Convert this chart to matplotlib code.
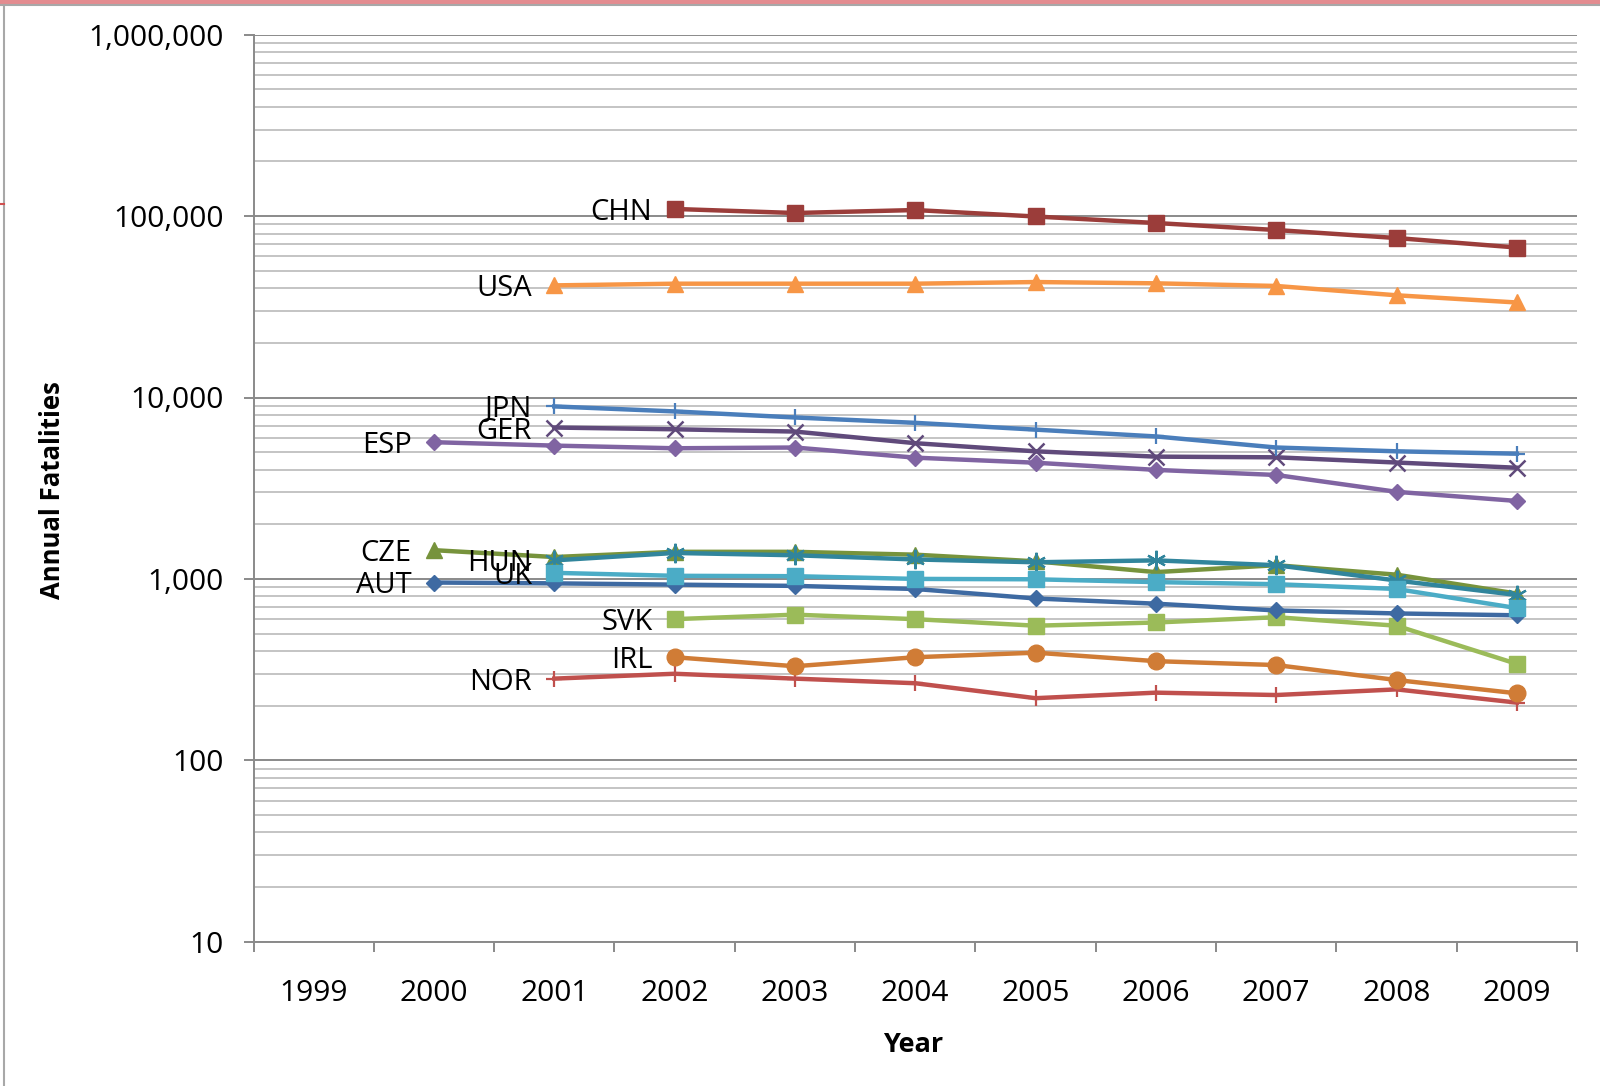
#!/usr/bin/env python3
"""Annual road fatalities by country, 1999-2009, log scale (Excel-style line chart)."""

import matplotlib

matplotlib.use("Agg")
import matplotlib.pyplot as plt
from matplotlib.lines import Line2D
from matplotlib.patches import Rectangle
from matplotlib.ticker import FixedLocator, FuncFormatter, LogLocator, NullFormatter

YEARS = list(range(1999, 2010))

# first year of each series and its values
CHN_START, CHN = 2002, [109500, 104000, 108000, 99500, 91600, 83800, 75700, 67100]
USA_START, USA = 2001, [41500, 42400, 42400, 42400, 43300, 42600, 41200, 36600, 33400]
JPN_START, JPN = 2001, [8930, 8380, 7760, 7250, 6650, 6100, 5300, 5050, 4900]
GER_START, GER = 2001, [6830, 6680, 6490, 5600, 5050, 4720, 4680, 4380, 4100]
ESP_START, ESP = 2000, [5670, 5430, 5250, 5300, 4660, 4370, 3990, 3740, 3020, 2690]
CZE_START, CZE = 2000, [1440, 1320, 1410, 1410, 1360, 1250, 1090, 1190, 1055, 830]
HUN_START, HUN = 2001, [1265, 1390, 1350, 1280, 1235, 1265, 1190, 980, 815]
UK_START, UK = 2001, [1080, 1040, 1035, 1000, 995, 960, 935, 880, 690]
AUT_START, AUT = 2000, [955, 945, 930, 915, 880, 780, 730, 670, 645, 630]
SVK_START, SVK = 2002, [600, 635, 600, 552, 575, 615, 552, 340]
IRL_START, IRL = 2002, [370, 330, 370, 392, 352, 335, 277, 234]
NOR_START, NOR = 2001, [282, 300, 282, 266, 220, 236, 229, 246, 208]

# name, start, values, colour, marker, marker size, marker edge width
SERIES = [
    ("NOR", NOR_START, NOR, "#C0504D", "+", 12, 1.6),
    ("IRL", IRL_START, IRL, "#D07C36", "o", 12, 1.0),
    ("SVK", SVK_START, SVK, "#9BBB59", "s", 12, 1.0),
    ("AUT", AUT_START, AUT, "#3E6AA2", "D", 8.5, 1.0),
    ("CZE", CZE_START, CZE, "#77933C", "^", 12, 1.0),
    ("HUN", HUN_START, HUN, "#31859C", (6, 2, 0), 14, 1.6),
    ("UK", UK_START, UK, "#4BACC6", "s", 12, 1.0),
    ("ESP", ESP_START, ESP, "#8064A2", "D", 8.5, 1.0),
    ("GER", GER_START, GER, "#604A7B", "x", 11, 1.8),
    ("JPN", JPN_START, JPN, "#4A7EBB", "+", 12, 1.6),
    ("USA", USA_START, USA, "#F79646", "^", 12, 1.0),
    ("CHN", CHN_START, CHN, "#9B3D3A", "s", 12, 1.0),
]

FONT = ["Open Sans", "DejaVu Sans"]
W, H = 1600, 1086


def fx(px):
    return px / W


def fy(py):
    return 1 - py / H


def main():
    plt.rcParams["font.family"] = FONT
    fig = plt.figure(figsize=(W / 100, H / 100), dpi=100, facecolor="white")

    ax_left, ax_right, ax_top, ax_bottom = 253.5, 1577, 34.7, 941.7
    ax = fig.add_axes([fx(ax_left), fy(ax_bottom), fx(ax_right - ax_left), (ax_bottom - ax_top) / H])

    for name, start, values, color, marker, ms, mew in SERIES:
        xs = [year - YEARS[0] for year in range(start, start + len(values))]
        ax.plot(
            xs,
            values,
            color=color,
            linewidth=3.2,
            marker=marker,
            markersize=ms,
            markeredgewidth=mew,
            markeredgecolor=color,
            markerfacecolor=color,
            zorder=3,
            solid_joinstyle="round",
        )
        ax.annotate(
            name,
            xy=(xs[0], values[0]),
            xytext=(-16, -2.5),
            textcoords="offset points",
            ha="right",
            va="center",
            fontsize=21,
            color="black",
            zorder=5,
        )

    ax.set_yscale("log")
    ax.set_ylim(10, 1e6)
    ax.set_xlim(-0.5, len(YEARS) - 0.5)

    ax.yaxis.set_major_locator(FixedLocator([10, 100, 1000, 10000, 100000, 1000000]))
    ax.yaxis.set_major_formatter(FuncFormatter(lambda v, _: f"{int(round(v)):,}"))
    ax.yaxis.set_minor_locator(LogLocator(base=10, subs=range(2, 10), numticks=20))
    ax.yaxis.set_minor_formatter(NullFormatter())

    ax.xaxis.set_major_locator(FixedLocator([i - 0.5 for i in range(len(YEARS) + 1)]))
    ax.xaxis.set_major_formatter(NullFormatter())
    ax.xaxis.set_minor_locator(FixedLocator(range(len(YEARS))))
    ax.xaxis.set_minor_formatter(FuncFormatter(lambda v, _: str(YEARS[int(round(v))])))

    ax.grid(which="major", axis="y", color="#8A8A8A", linewidth=1.4, zorder=0)
    ax.grid(which="minor", axis="y", color="#C4C4C4", linewidth=1.4, zorder=0)
    ax.set_axisbelow(True)

    for side in ("top", "right"):
        ax.spines[side].set_visible(False)
    for side in ("left", "bottom"):
        ax.spines[side].set_color("#8A8A8A")
        ax.spines[side].set_linewidth(1.4)

    ax.tick_params(axis="y", which="major", length=7.2, width=1.4, color="#8A8A8A",
                   pad=14, labelsize=21.5, labelcolor="black")
    ax.tick_params(axis="y", which="minor", length=0)
    ax.tick_params(axis="x", which="major", length=7.2, width=1.4, color="#8A8A8A")
    ax.tick_params(axis="x", which="minor", length=0, pad=27, labelsize=21.5, labelcolor="black")

    fig.text(fx(913), fy(1045), "Year", ha="center", va="center",
             fontsize=19.5, fontweight="bold")
    fig.text(fx(53), fy(490), "Annual Fatalities", ha="center", va="center",
             rotation=90, fontsize=18.5, fontweight="bold")

    # screenshot frame around the chart
    fig.add_artist(Rectangle((0, fy(4)), 1, 4 / H, transform=fig.transFigure,
                             facecolor="#E38C90", edgecolor="none"))
    fig.add_artist(Line2D([0, 1], [fy(5), fy(5)], transform=fig.transFigure,
                          color="#A8A8A8", linewidth=1.5))
    fig.add_artist(Line2D([fx(4), fx(4)], [0, fy(5)], transform=fig.transFigure,
                          color="#A8A8A8", linewidth=1.5))
    fig.add_artist(Line2D([0, fx(4)], [fy(204), fy(204)], transform=fig.transFigure,
                          color="#D05050", linewidth=1.5))

    fig.savefig("out.png", dpi=100, facecolor="white")
    plt.close(fig)


if __name__ == "__main__":
    main()
